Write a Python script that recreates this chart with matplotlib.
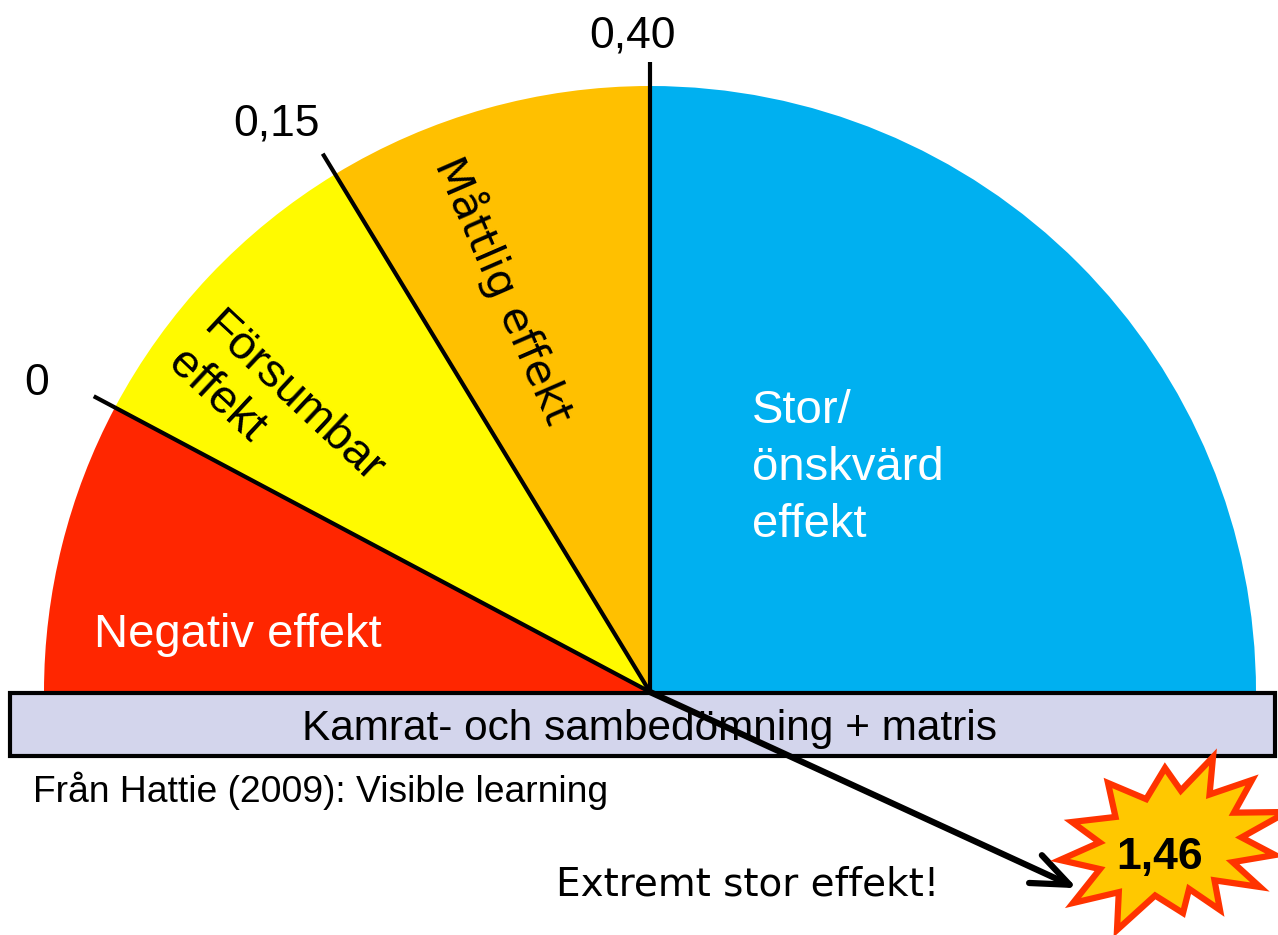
import numpy as np
import matplotlib
matplotlib.use("Agg")
import matplotlib.pyplot as plt
from matplotlib.patches import Wedge, Rectangle, Polygon, FancyArrowPatch

plt.rcParams['font.family'] = ['Liberation Sans', 'DejaVu Sans']

# gauge data
thresholds = [0, 0.15, 0.40]
threshold_labels = ["0", "0,15", "0,40"]
effect = 1.46
effect_label = "1,46"
zones = ["Negativ effekt", "Försumbar\neffekt", "Måttlig effekt", "Stor/\nönskvärd\neffekt"]
zone_colors = ["#FF2600", "#FFFA00", "#FFC000", "#00B0F0"]
bar_text = "Kamrat- och sambedömning + matris"
source_text = "Från Hattie (2009): Visible learning"
extreme_text = "Extremt stor effekt!"

# gauge scale: value -> angle (degrees), piecewise
scale_v = [-0.2, 0, 0.15, 0.40, 1.5]
scale_a = [180, 152, 121.3, 90, -29]
def v2a(v):
    return np.interp(v, scale_v, scale_a)

W, H = 1278, 935
fig = plt.figure(figsize=(W/100, H/100), dpi=100)
ax = fig.add_axes([0, 0, 1, 1])
ax.set_xlim(0, W)
ax.set_ylim(0, H)
ax.axis('off')

cx, cy = 650, H - 692
R = 606

edges = [180] + [v2a(t) for t in thresholds] + [0]
for i in range(4):
    ax.add_patch(Wedge((cx, cy), R, edges[i+1], edges[i], fc=zone_colors[i], ec='none', zorder=1))

# threshold lines and labels
label_r = [687, 680, 656]
label_da = [1.3, 2, 1.5]
for t, lab, lr, da in zip(thresholds, threshold_labels, label_r, label_da):
    a = np.radians(v2a(t))
    ax.plot([cx, cx + 630*np.cos(a)], [cy, cy + 630*np.sin(a)], color='black', lw=3, zorder=3,
            solid_capstyle='butt')
    la = np.radians(v2a(t) + da)
    ax.text(cx + lr*np.cos(la), cy + lr*np.sin(la), lab, fontsize=32, ha='center', va='center', zorder=4)

# zone labels
ax.text(238, H - 635, zones[0], color='white', fontsize=34, ha='center', va='center', zorder=4)
ax.text(224, H - 304, zones[1], color='black', fontsize=34, rotation=-43, rotation_mode='anchor',
        ha='left', va='top', linespacing=1.2, zorder=4)
ax.text(505, H - 290, zones[2], color='black', fontsize=31, rotation=-66.5, rotation_mode='anchor',
        ha='center', va='center', family='DejaVu Sans', zorder=4)
ax.text(752, H - 468, zones[3], color='white', fontsize=34, ha='left', va='center', linespacing=1.37, zorder=4)

# bottom bar
ax.add_patch(Rectangle((10, H - 756), 1265, 63, fc='#D3D5EC', ec='black', lw=3, zorder=5))
ax.text(650, H - 729, bar_text, fontsize=30.5, ha='center', va='center', zorder=6)
ax.text(33, H - 791, source_text, fontsize=26.8, ha='left', va='center', zorder=6)

# needle
a = np.radians(v2a(effect))
L = 470
ax.add_patch(FancyArrowPatch((cx, cy), (cx + L*np.cos(a), cy + L*np.sin(a)),
                             arrowstyle='->,head_length=1.35,head_width=0.55', mutation_scale=20,
                             lw=4.5, color='black', zorder=7, shrinkA=0, shrinkB=0))

ax.text(748, H - 885, extreme_text, fontsize=28, ha='center', va='center',
        family='DejaVu Sans', zorder=6)

# starburst
sx, sy = 1165, H - 845
outer = [(48, -88), (87, -65), (122, -33), (110, 10), (95, 42), (55, 65), (18, 68),
         (-48, 85), (-92, 58), (-105, 15), (-93, -23), (-57, -62), (0, -77)]
pts = []
n = len(outer)
for i in range(n):
    ox, oy = outer[i]
    nx, ny = outer[(i+1) % n]
    pts.append((sx + ox, sy - oy))
    mx, my = (ox + nx)/2, (oy + ny)/2
    pts.append((sx + 0.66*mx, sy - 0.66*my))
ax.add_patch(Polygon(pts, closed=True, fc='#FFC800', ec='#FF3300', lw=4.5, joinstyle='miter', zorder=8))
ax.text(1160, H - 858, effect_label, fontsize=32, fontweight='bold', ha='center', va='center', zorder=9)

fig.savefig('out.png', dpi=100)
